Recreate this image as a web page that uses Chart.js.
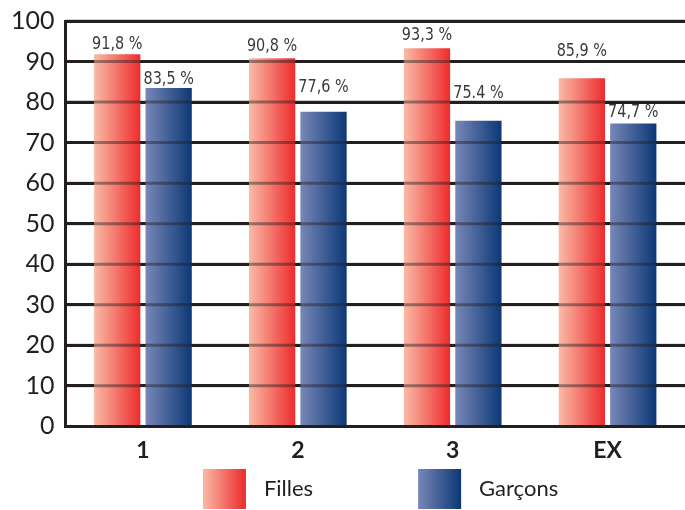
<!DOCTYPE html>
<html>
<head>
<meta charset="utf-8">
<script src="https://cdn.jsdelivr.net/npm/chart.js@4"></script>
<style>
  html, body { margin: 0; padding: 0; background: #fff; }
  #wrap { width: 685px; height: 510px; }
</style>
</head>
<body>
<div id="wrap"><canvas id="chart" width="685" height="510"></canvas></div>
<script>
const categories = ['1', '2', '3', 'EX'];
const filles = [91.8, 90.8, 93.3, 85.9];
const garcons = [83.5, 77.6, 75.4, 74.7];
const yTicks = [0, 10, 20, 30, 40, 50, 60, 70, 80, 90, 100];

// how far above each bar its label sits (px)
const labelLift = [[3, 5, 6, 20], [2, 17, 20, 4]];

const gradients = [
    ['#f9bba6', '#ee2b2d'],
    ['#7887b8', '#0c3876']
];
const INK = '#231f20';
const CAT_PCT = 0.664;
const BAR_PCT = 0.9;
const LEGEND_BOX = 143;

function barFill(c) {
    const chart = c.chart;
    const stops = gradients[c.datasetIndex];
    const x = chart.scales.x;
    if (!chart.chartArea || !x || c.type !== 'data') return stops[1];
    const slot = (x.width / categories.length) * CAT_PCT;
    const chunk = slot / 2;
    const start = x.getPixelForValue(c.dataIndex) - slot / 2 + chunk * c.datasetIndex;
    const w = chunk * BAR_PCT;
    const left = start + (chunk - w) / 2;
    const g = chart.ctx.createLinearGradient(left, 0, left + w, 0);
    g.addColorStop(0, stops[0]);
    g.addColorStop(1, stops[1]);
    return g;
}

// legend swatch: transparent on the left, gradient box just before the text
function swatch(stops) {
    const w = 43, h = 40;
    const cv = document.createElement('canvas');
    cv.width = LEGEND_BOX;
    cv.height = h;
    const ctx = cv.getContext('2d');
    const x0 = LEGEND_BOX - 7 - w;
    const g = ctx.createLinearGradient(x0, 0, x0 + w, 0);
    g.addColorStop(0, stops[0]);
    g.addColorStop(1, stops[1]);
    ctx.fillStyle = g;
    ctx.fillRect(x0, 0, w, h);
    return cv;
}

const gridOverlay = {
    id: 'gridOverlay',
    afterDatasetsDraw(chart) {
        const { ctx, chartArea, scales } = chart;
        ctx.save();
        ctx.strokeStyle = 'rgba(35,31,32,0.45)';
        ctx.lineWidth = 3;
        scales.y.ticks.forEach(t => {
            const y = scales.y.getPixelForValue(t.value);
            ctx.beginPath();
            ctx.moveTo(chartArea.left, y);
            ctx.lineTo(chartArea.right, y);
            ctx.stroke();
        });
        ctx.restore();
    }
};

const valueLabels = {
    id: 'valueLabels',
    afterDatasetsDraw(chart) {
        const ctx = chart.ctx;
        chart.data.datasets.forEach((ds, di) => {
            chart.getDatasetMeta(di).data.forEach((bar, i) => {
                const sep = di === 1 && i === 2 ? '.' : ',';
                const txt = ds.data[i].toFixed(1).replace('.', sep) + ' %';
                ctx.save();
                ctx.translate(bar.x, bar.y - labelLift[di][i] + 2);
                ctx.scale(0.8, 1);
                ctx.font = '18px "DejaVu Sans", sans-serif';
                ctx.fillStyle = '#3a3a3a';
                ctx.textAlign = 'center';
                ctx.textBaseline = 'bottom';
                ctx.fillText(txt, 0, 0);
                ctx.restore();
            });
        });
    }
};

const swatches = gradients.map(swatch);

new Chart(document.getElementById('chart'), {
    type: 'bar',
    data: {
        labels: categories,
        datasets: [
            { label: 'Filles', data: filles, backgroundColor: barFill, borderWidth: 0 },
            { label: 'Garçons', data: garcons, backgroundColor: barFill, borderWidth: 0 }
        ]
    },
    options: {
        responsive: false,
        animation: false,
        categoryPercentage: CAT_PCT,
        barPercentage: BAR_PCT,
        layout: { padding: 0 },
        scales: {
            x: {
                grid: { display: false },
                border: { display: true, color: INK, width: 3 },
                ticks: {
                    color: INK,
                    padding: 2,
                    font: { family: 'Lato', size: 23, weight: 'bold' }
                }
            },
            y: {
                min: 0,
                max: 100,
                afterBuildTicks(scale) {
                    scale.ticks = yTicks.map(v => ({ value: v }));
                },
                grid: { color: INK, lineWidth: 3, drawTicks: false },
                border: { display: true, color: INK, width: 3 },
                ticks: {
                    color: INK,
                    padding: 11,
                    font: { family: 'Lato', size: 25, lineHeight: 0.8 }
                }
            }
        },
        plugins: {
            tooltip: { enabled: false },
            legend: {
                position: 'bottom',
                labels: {
                    usePointStyle: true,
                    pointStyleWidth: LEGEND_BOX,
                    padding: 12,
                    color: INK,
                    font: { family: 'Lato', size: 22 },
                    generateLabels(chart) {
                        return chart.data.datasets.map((ds, i) => ({
                            // trailing spaces keep the legend group where the reference has it
                            text: i === 1 ? ds.label + '   ' : ds.label,
                            pointStyle: swatches[i],
                            fillStyle: gradients[i][1],
                            strokeStyle: 'transparent',
                            lineWidth: 0,
                            fontColor: INK,
                            hidden: false,
                            datasetIndex: i
                        }));
                    }
                }
            }
        }
    },
    plugins: [gridOverlay, valueLabels]
});
</script>
</body>
</html>
